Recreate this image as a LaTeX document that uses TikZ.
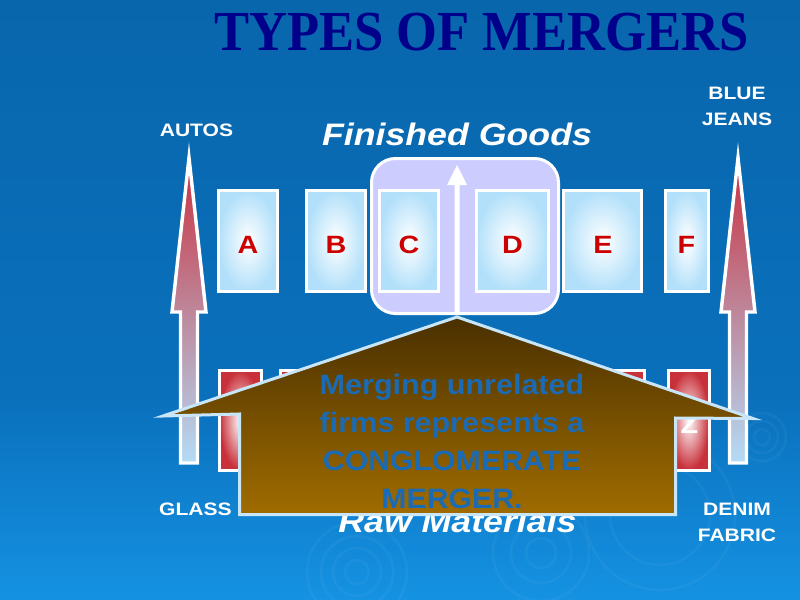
\documentclass[tikz,border=0pt]{standalone}
\usepackage{fontspec}
\usepackage{graphicx}
\setmainfont{Liberation Sans}
\newfontfamily\titlefont{Liberation Serif}
\definecolor{bgtop}{HTML}{0866AC}
\definecolor{bgmid}{HTML}{0A70BC}
\definecolor{bgbot}{HTML}{1592E2}
\definecolor{titleblue}{HTML}{00008B}
\definecolor{boxblue}{HTML}{B2E0FA}
\definecolor{boxred}{HTML}{C8303A}
\definecolor{letred}{HTML}{CC0000}
\definecolor{lav}{HTML}{CCCCFF}
\definecolor{arrred}{HTML}{C8303E}
\definecolor{arrmid}{HTML}{C2A6C8}
\definecolor{arrblue}{HTML}{B4DCF6}
\definecolor{brtop}{HTML}{4A3000}
\definecolor{brbot}{HTML}{A06C00}
\definecolor{bredge}{HTML}{C8E6F8}
\definecolor{mblue}{HTML}{1A6AB4}
\pgfdeclareverticalshading{bgshade}{100bp}{color(0bp)=(bgbot); color(25bp)=(bgbot); color(42bp)=(bgmid); color(75bp)=(bgtop); color(100bp)=(bgtop)}
\newcommand{\sx}[2]{\scalebox{#1}[1]{#2}}
\begin{document}
\begin{tikzpicture}[x=0.75pt,y=-0.75pt,
  lbox/.style={draw=white, line width=2.25pt, inner color=white, outer color=boxblue},
  rbox/.style={draw=white, line width=2.25pt, inner color=white, outer color=boxred},
  uparr/.style={draw=white, line width=2.6pt, line join=miter, top color=arrred, middle color=arrmid, bottom color=arrblue},
  house/.style={draw=bredge, line width=2.25pt, line join=miter, top color=brtop, bottom color=brbot},
  ripple/.style={draw=white, opacity=0.04, line width=2pt},
  lbl/.style={text=white, font=\bfseries\fontsize{13.5}{16}\selectfont, inner sep=0pt, anchor=base},
  big/.style={text=white, font=\bfseries\itshape\fontsize{23.3}{28}\selectfont, inner sep=0pt, anchor=base},
  letter/.style={text=letred, font=\bfseries\fontsize{18.75}{22}\selectfont, inner sep=0pt, anchor=base},
  mtext/.style={text=mblue, font=\bfseries\fontsize{21}{28}\selectfont, inner sep=0pt, anchor=base}]
% background
\path[use as bounding box, shading=bgshade] (0,0) rectangle (800,600);
% ripples
\foreach \r in {8,16,24} \draw[ripple] (762,437) circle (\r);
\foreach \r in {12,24,36,50} \draw[ripple] (357,572) circle (\r);
\foreach \r in {15,30,48} \draw[ripple] (541,553) circle (\r);
\foreach \r in {50,75} \draw[ripple] (660,515) circle (\r);
% title
\node[inner sep=0pt, anchor=base, text=titleblue, font=\titlefont\bfseries\fontsize{42.4}{48}\selectfont] (title) at (481.5,50.7) {\sx{0.93}{TYPES OF MERGERS}};
% labels
\node[lbl] (autos) at (196.5,136) {\sx{1.17}{AUTOS}};
\node[lbl] (blue) at (737,99.5) {\sx{1.17}{BLUE}};
\node[lbl] (jeans) at (737,125) {\sx{1.17}{JEANS}};
\node[lbl] (glass) at (195.5,515) {\sx{1.17}{GLASS}};
\node[lbl] (denim) at (737,515) {\sx{1.17}{DENIM}};
\node[lbl] (fabric) at (737,541) {\sx{1.17}{FABRIC}};
\node[big] (finished) at (457,145) {\sx{1.15}{Finished Goods}};
% side arrows
\path[uparr] (189,158) -- (206,312) -- (197.5,312) -- (197.5,463) -- (180.5,463) -- (180.5,312) -- (172,312) -- cycle;
\path[uparr] (738,158) -- (755,312) -- (746.5,312) -- (746.5,463) -- (729.5,463) -- (729.5,312) -- (721,312) -- cycle;
% top boxes
\path[lbox] (218.5,190.5) rectangle (277.5,291.5);
\path[lbox] (306.5,190.5) rectangle (365.5,291.5);
\path[lbox] (563.5,190.5) rectangle (641.5,291.5);
\path[lbox] (665,190.5) rectangle (708,291.5);
\path[draw=white, line width=2.25pt, fill=lav, rounded corners=18] (371.5,158.5) rectangle (558.5,313.5);
\path[lbox] (379.5,190.5) rectangle (438.5,291.5);
\path[lbox] (476,190.5) rectangle (548,291.5);
\path[fill=white] (457,165) -- (467,185) -- (459.5,185) -- (459.5,315) -- (454.5,315) -- (454.5,185) -- (447,185) -- cycle;
\node[letter] (la) at (248,253) {\sx{1.15}{A}};
\node[letter] (lb) at (336,253) {\sx{1.15}{B}};
\node[letter] (lc) at (409,253) {\sx{1.15}{C}};
\node[letter] (ld) at (512.5,253) {\sx{1.15}{D}};
\node[letter] (le) at (603,253) {\sx{1.15}{E}};
\node[letter] (lf) at (686.5,253) {\sx{1.15}{F}};
% bottom boxes
\path[rbox] (219.5,370.5) rectangle (261,470);
\path[rbox] (280.5,370.5) rectangle (330,470);
\path[rbox] (590,370.5) rectangle (644,470);
\path[rbox] (668.5,370.5) rectangle (709,470);
\node[letter, text=white] (lz) at (689.5,433) {\sx{1.15}{Z}};
\node[big] (raw) at (457.5,532) {\sx{1.15}{Raw Materials}};
% conglomerate arrow
\path[house] (457,317) -- (753,418.5) -- (675.5,418) -- (675.5,514.5) -- (239.5,514.5) -- (239.5,414) -- (163,416) -- cycle;
\node[mtext] (m1) at (452,394) {\sx{1.09}{Merging unrelated}};
\node[mtext] (m2) at (452,432.5) {\sx{1.09}{firms represents a}};
\node[mtext] (m3) at (452,470) {\sx{1.08}{CONGLOMERATE}};
\node[mtext] (m4) at (452,508) {\sx{1.08}{MERGER.}};
\end{tikzpicture}
\end{document}
